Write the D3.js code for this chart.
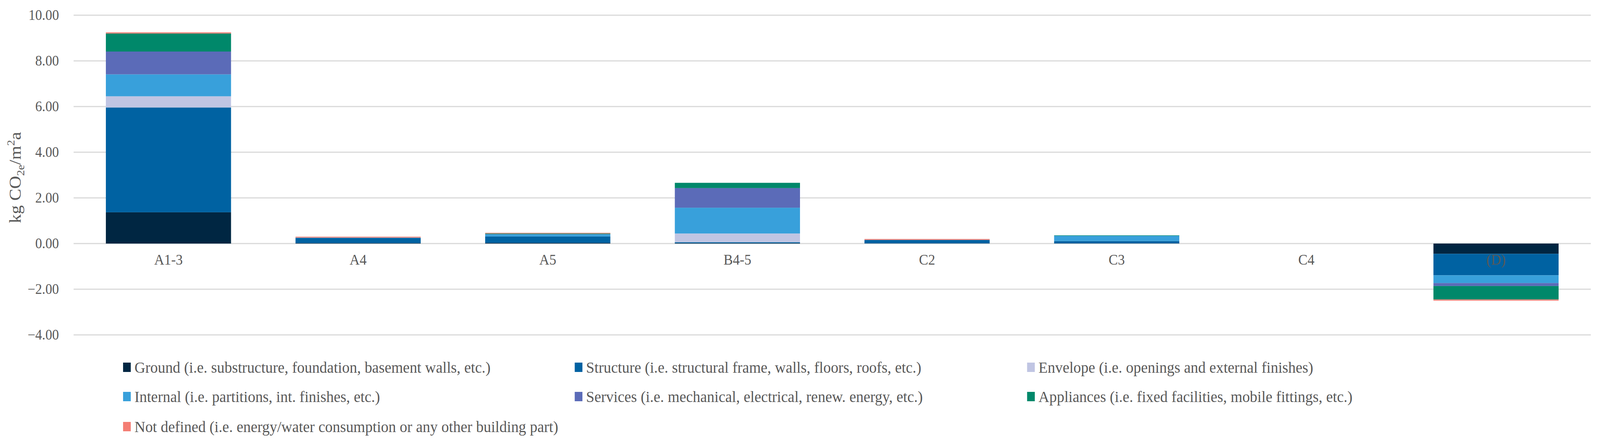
<!DOCTYPE html>
<html>
<head>
<meta charset="utf-8">
<script src="https://cdnjs.cloudflare.com/ajax/libs/d3/7.8.5/d3.min.js"></script>
<style>
  html, body { margin: 0; padding: 0; background: #fff; overflow: hidden; }
  #chart { display: block; width: 100vw; height: 100vh; }
  text { font-family: "Liberation Serif", "DejaVu Serif", serif; fill: #595959; }
</style>
</head>
<body>
<svg id="chart" viewBox="0 0 4368 1135" preserveAspectRatio="none"></svg>
<script>
// categories (life cycle modules)
var stages = ["A1-3", "A4", "A5", "B4-5", "C2", "C3", "C4", "(D)"];

// building parts, stacking order bottom -> top
var parts = ["Ground", "Structure", "Envelope", "Internal", "Services", "Appliances", "Not defined"];
var partLabels = [
	"Ground (i.e. substructure, foundation, basement walls, etc.)",
	"Structure (i.e. structural frame, walls, floors, roofs, etc.)",
	"Envelope (i.e. openings and external finishes)",
	"Internal (i.e. partitions, int. finishes, etc.)",
	"Services (i.e. mechanical, electrical, renew. energy, etc.)",
	"Appliances (i.e. fixed facilities, mobile fittings, etc.)",
	"Not defined (i.e. energy/water consumption or any other building part)"
];
var partColors = ["#002642", "#0062a2", "#c0c5e3", "#38a0db", "#5b6bb8", "#00886a", "#f47e74"];

// kg CO2e/m2a per stage, one array per building part
var ground     = [1.37, 0.02, 0.03, 0.02, 0.01, 0.01, 0, -0.45];
var structure  = [4.59, 0.23, 0.28, 0.04, 0.15, 0.10, 0, -0.94];
var envelope   = [0.49, 0.00, 0.00, 0.38, 0.00, 0.00, 0, 0];
var internal   = [0.96, 0.01, 0.09, 1.13, 0.00, 0.23, 0, -0.34];
var services   = [1.00, 0.00, 0.01, 0.86, 0.00, 0.00, 0, -0.13];
var appliances = [0.79, 0.00, 0.03, 0.23, 0.00, 0.02, 0, -0.59];
var notDefined = [0.05, 0.04, 0.03, 0.00, 0.04, 0.00, 0, -0.05];

var yTicks = [-4, -2, 0, 2, 4, 6, 8, 10];

var series = [ground, structure, envelope, internal, services, appliances, notDefined];
var table = stages.map(function (s, i) {
	var row = {stage: s};
	parts.forEach(function (p, j) { row[p] = series[j][i]; });
	return row;
});

var svg = d3.select("#chart");
var plotLeft = 201, plotRight = 4343, plotTop = 39, plotBottom = 858;

var x = d3.scaleBand().domain(stages).range([plotLeft, plotRight])
	.paddingInner(0.34).paddingOuter(0.17);
var y = d3.scaleLinear().domain([-4, 10]).range([plotBottom, plotTop]);

// gridlines
svg.append("g").selectAll("line").data(yTicks).enter().append("line")
	.attr("x1", plotLeft).attr("x2", plotRight)
	.attr("y1", function (d) { return y(d); }).attr("y2", function (d) { return y(d); })
	.attr("stroke", "#d9d9d9").attr("stroke-width", 3);

// y tick labels
var yAxis = d3.axisLeft(y).tickValues(yTicks).tickSize(0).tickPadding(0)
	.tickFormat(d3.format(".2f"));
var ya = svg.append("g").attr("transform", "translate(161,0)").call(yAxis);
ya.select(".domain").remove();
ya.selectAll("text").attr("font-size", 37).attr("fill", "#595959")
	.attr("font-family", "Liberation Serif, serif");

// stacked bars
var stack = d3.stack().keys(parts).offset(d3.stackOffsetDiverging);
var layers = stack(table);

svg.append("g").selectAll("g").data(layers).enter().append("g")
	.attr("fill", function (d, i) { return partColors[i]; })
	.selectAll("rect").data(function (d) { return d; }).enter().append("rect")
	.attr("x", function (d) { return x(d.data.stage); })
	.attr("width", x.bandwidth())
	.attr("y", function (d) { return y(Math.max(d[0], d[1])); })
	.attr("height", function (d) { return Math.abs(y(d[0]) - y(d[1])); });

// category labels (sit at fixed position below zero, also over the (D) bar)
var xAxis = d3.axisBottom(x).tickSize(0).tickPadding(0);
var xa = svg.append("g").attr("transform", "translate(0," + (y(0) + 27) + ")").call(xAxis);
xa.select(".domain").remove();
xa.selectAll("text").attr("font-size", 38).attr("fill", "#595959")
	.attr("font-family", "Liberation Serif, serif").attr("dy", "0.71em");

// y axis title
var title = svg.append("text")
	.attr("transform", "translate(56,455) rotate(-90)")
	.attr("text-anchor", "middle").attr("font-size", 46);
title.append("tspan").text("kg CO");
title.append("tspan").attr("font-size", 30).attr("dy", 10).text("2e");
title.append("tspan").attr("dy", -10).text("/m");
title.append("tspan").attr("font-size", 30).attr("dy", -17).text("2");
title.append("tspan").attr("dy", 17).text("a");

// legend
var colX = [336, 1569, 2804], rowY = [941, 1016, 1093];
var leg = svg.append("g").selectAll("g").data(parts).enter().append("g")
	.attr("transform", function (d, i) {
		return "translate(" + colX[i % 3] + "," + rowY[Math.floor(i / 3)] + ")";
	});
leg.append("rect").attr("x", 0).attr("y", -12).attr("width", 21).attr("height", 24)
	.attr("fill", function (d, i) { return partColors[i]; });
leg.append("text").attr("x", 31).attr("dy", "0.35em").attr("font-size", 41)
	.text(function (d, i) { return partLabels[i]; });
</script>
</body>
</html>
